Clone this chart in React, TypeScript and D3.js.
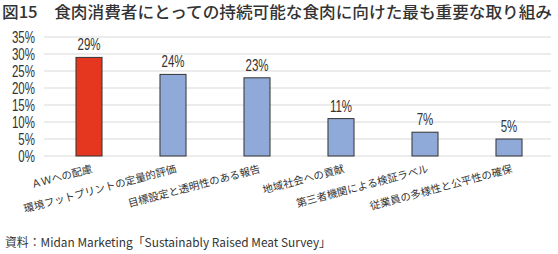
import React from "react";
import * as d3 from "d3";

const categories = [
  "ＡＷへの配慮",
  "環境フットプリントの定量的評価",
  "目標設定と透明性のある報告",
  "地域社会への貢献",
  "第三者機関による検証ラベル",
  "従業員の多様性と公平性の確保",
];
const values = [29, 24, 23, 11, 7, 5];
const yTicks = [0, 5, 10, 15, 20, 25, 30, 35];
const title = "図15　食肉消費者にとっての持続可能な食肉に向けた最も重要な取り組み";
const source = "資料：Midan Marketing「Sustainably Raised Meat Survey」";

const W = 558;
const H = 254;
const narrow = "'Liberation Sans', Arial, sans-serif";
const jp = "'Noto Sans CJK JP', sans-serif";
const SX = 0.72;

export default function App() {
  const x = d3.scaleBand<string>().domain(categories).range([47, 551]).paddingInner(0.69).paddingOuter(0.345);
  const y = d3.scaleLinear().domain([0, 35]).range([156, 37]);
  return (
    <div style={{ position: "absolute", left: 0, top: 0 }}>
      <svg width={W} height={H} style={{ display: "block", background: "#fff" }}>
        <text x={2} y={18} fontFamily={jp} fontSize={16} fontWeight={500} fill="#333" textLength={550} lengthAdjust="spacingAndGlyphs">
          {title}
        </text>
        {yTicks.map((t) => (
          <g key={t}>
            <line x1={44} x2={551} y1={y(t)} y2={y(t)} stroke="#d9d9d9" strokeWidth={1} />
            <text transform={`translate(35,${y(t) + 5.5}) scale(${SX},1)`} textAnchor="end" fontFamily={narrow} fontSize={16} fill="#333">
              {t}%
            </text>
          </g>
        ))}
        {categories.map((c, i) => {
          const bx = x(c)!;
          const bw = x.bandwidth();
          const cx = bx + bw / 2;
          return (
            <g key={c}>
              <rect
                x={bx}
                y={y(values[i])}
                width={bw}
                height={y(0) - y(values[i])}
                fill={i === 0 ? "#e5371f" : "#8faad8"}
                stroke="#333"
                strokeWidth={1}
              />
              <text transform={`translate(${cx},${y(values[i]) - 7}) scale(${SX},1)`} textAnchor="middle" fontFamily={narrow} fontSize={16} fill="#333">
                {values[i]}%
              </text>
              <text
                transform={`translate(${cx + 4},172) rotate(-15)`}
                textAnchor="end"
                fontFamily={jp}
                fontSize={10.5}
                fill="#333"
              >
                {c}
              </text>
            </g>
          );
        })}
        <text x={5} y={247} fontFamily={jp} fontSize={12} fill="#333" textLength={326} lengthAdjust="spacingAndGlyphs">
          {source}
        </text>
      </svg>
    </div>
  );
}
